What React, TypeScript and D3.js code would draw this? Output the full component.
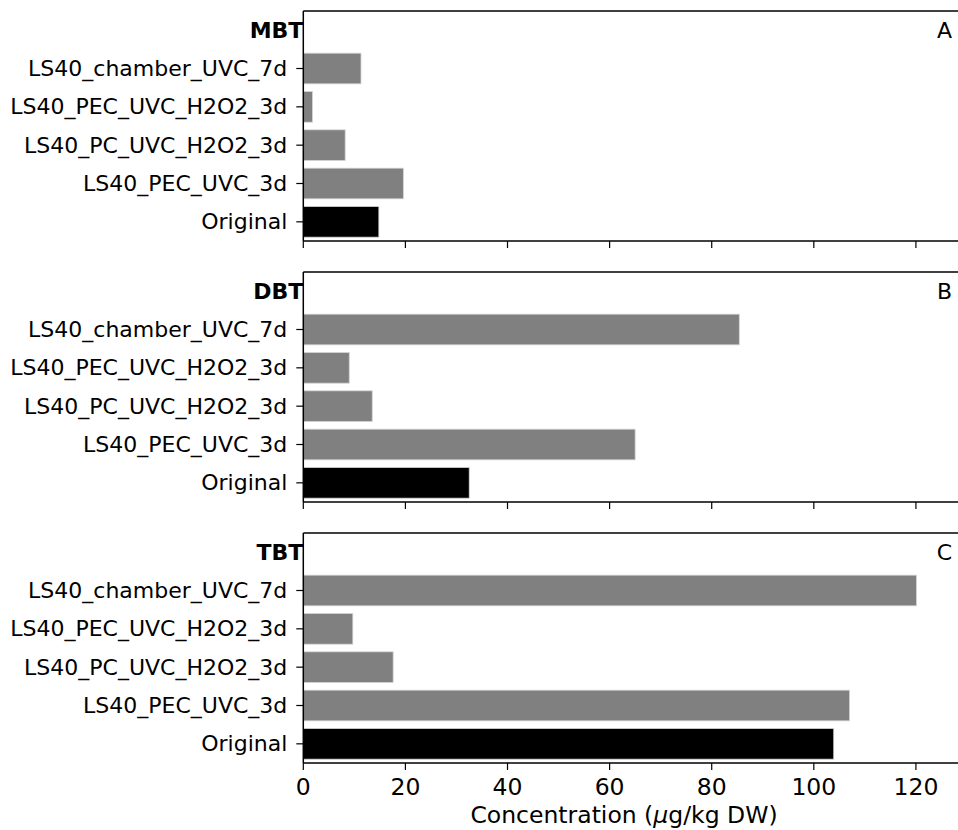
import React from 'react';
import * as d3 from 'd3';

const CATEGORIES = [
  'Original',
  'LS40_PEC_UVC_3d',
  'LS40_PC_UVC_H2O2_3d',
  'LS40_PEC_UVC_H2O2_3d',
  'LS40_chamber_UVC_7d',
];
const MBT = [14.8, 19.6, 8.2, 1.8, 11.3];
const DBT = [32.5, 65.0, 13.5, 9.0, 85.4];
const TBT = [103.9, 107.0, 17.6, 9.7, 120.1];
const PANEL_NAMES = ['MBT', 'DBT', 'TBT'];
const PANEL_TAGS = ['A', 'B', 'C'];
const X_TICKS = [0, 20, 40, 60, 80, 100, 120];

const W = 958, H = 830;
const FONT = "'DejaVu Sans', sans-serif";
const panelTops = [11, 272, 533];
const panelH = 230;

export default function App() {
  const series = [MBT, DBT, TBT];
  const x = d3.scaleLinear().domain([0, 128.3]).range([303.3, 958.3]);
  const x0 = x(0);

  return (
    <svg width={W} height={H} style={{ position: 'absolute', left: 0, top: 0, background: '#fff' }}
      fontFamily={FONT}>
      {series.map((vals, pi) => {
        const top = panelTops[pi];
        const bottom = top + panelH;
        // slot 5 holds the compound name
        const y = d3.scaleLinear().domain([-0.5, 5.5]).range([bottom, top]);
        const bh = Math.abs(y(0.8) - y(0));
        return (
          <g key={pi}>
            {vals.map((v, i) => (
              <rect key={i} x={x0} y={y(i) - bh / 2} width={x(v) - x0} height={bh}
                fill={i === 0 ? '#000' : '#808080'} stroke="#d4d4d4" strokeWidth={0.8} />
            ))}
            {/* spines */}
            <line x1={x0} x2={W + 2} y1={top} y2={top} stroke="#000" strokeWidth={1.5} />
            <line x1={x0} x2={W + 2} y1={bottom} y2={bottom} stroke="#000" strokeWidth={1.5} />
            <line x1={x0} x2={x0} y1={top} y2={bottom} stroke="#000" strokeWidth={1.5} />
            {/* y ticks */}
            {CATEGORIES.map((c, i) => (
              <g key={c}>
                <line x1={x0 - 7} x2={x0} y1={y(i)} y2={y(i)} stroke="#000" strokeWidth={1.2} />
                <text x={x0 - 16} y={y(i)} textAnchor="end" dominantBaseline="central"
                  fontSize={22} fill="#000">{c}</text>
              </g>
            ))}
            {/* x ticks */}
            {X_TICKS.map(t => (
              <line key={t} x1={x(t)} x2={x(t)} y1={bottom} y2={bottom + 7} stroke="#000" strokeWidth={1.2} />
            ))}
            {pi === 2 && X_TICKS.map(t => (
              <text key={'l' + t} x={x(t)} y={bottom + 24} textAnchor="middle" dominantBaseline="central"
                fontSize={23.5} fill="#000">{t}</text>
            ))}
            <text x={x0} y={y(5)} textAnchor="end" dominantBaseline="central" fontSize={22}
              fontWeight="bold" fill="#000">{PANEL_NAMES[pi]}</text>
            <text x={952} y={y(5)} textAnchor="end" dominantBaseline="central" fontSize={22}
              fill="#000">{PANEL_TAGS[pi]}</text>
          </g>
        );
      })}
      <text x={624} y={815} textAnchor="middle" dominantBaseline="central" fontSize={23.5} fill="#000">
        Concentration (<tspan fontStyle="italic">μ</tspan>g/kg DW)
      </text>
    </svg>
  );
}
